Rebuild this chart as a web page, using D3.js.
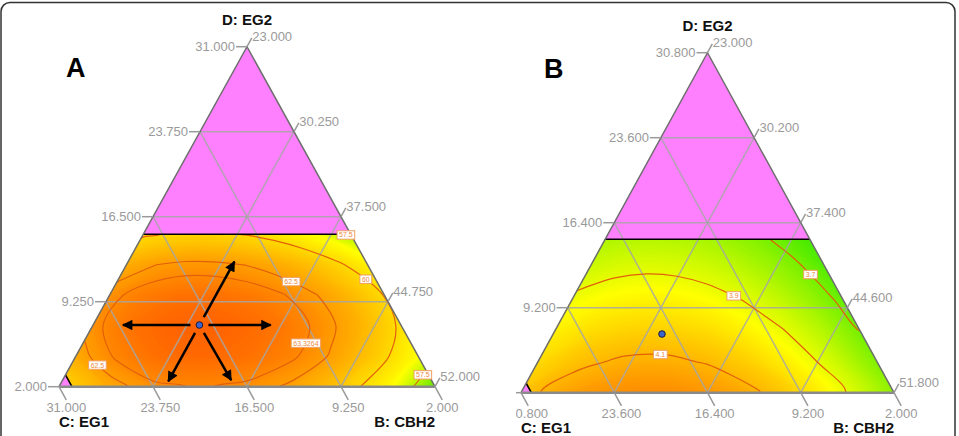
<!DOCTYPE html>
<html>
<head>
<meta charset="utf-8">
<script src="https://cdn.jsdelivr.net/npm/d3@7"></script>
<style>
  body { margin: 0; background: #fff; }
  text { font-family: "Liberation Sans", Arial, sans-serif; }
</style>
</head>
<body>
<script>
// ---- Panel A: response (ternary EG1 / CBH2 / EG2) ----
const dTicksA = [2, 9.25, 16.5, 23.75, 31];       // D: EG2
const bTicksA = [23, 30.25, 37.5, 44.75, 52];      // B: CBH2
const cTicksA = [31, 23.75, 16.5, 9.25, 2];        // C: EG1
const gridDA = [2, 4.6, 7.2, 9.8, 12.4, 15];       // EG2 level of each response row
const gridPosA = [0, 0.125, 0.25, 0.375, 0.5, 0.625, 0.75, 0.875, 1]; // place along row, EG1 side -> CBH2 side
const responseA = [
  [59.91, 61.92, 63.09, 63.42, 63.09, 62.22, 60.81, 58.85, 56.34],
  [61.98, 63.57, 64.47, 64.67, 64.34, 63.57, 62.35, 60.68, 58.55],
  [63.00, 64.22, 64.87, 64.96, 64.65, 63.98, 62.93, 61.52, 59.75],
  [62.97, 63.86, 64.30, 64.32, 64.02, 63.44, 62.56, 61.40, 59.94],
  [61.88, 62.50, 62.77, 62.72, 62.45, 61.95, 61.23, 60.28, 59.11],
  [59.75, 60.13, 60.26, 60.18, 59.93, 59.51, 58.93, 58.19, 57.28]
];
const levelsA = [57.5, 60, 62.5, 63.3264];
// contour labels: level, EG2, CBH2
const labelsA = [[57.5, 14.85, 38.7], [60, 11.1, 42.1], [62.5, 11.27, 36.4],
                 [63.3264, 5.73, 40.1], [62.5, 3.68, 25.0], [57.5, 2.66, 51.1]];
const pointA = [7.26, 31.2];   // EG2, CBH2
const arrowsA = [[0, -5.9], [0, 5.5], [5.4, 0], [-4.8, 0], [-4.7, 4.8]]; // change in EG2, CBH2

// ---- Panel B ----
const dTicksB = [2, 9.2, 16.4, 23.6, 30.8];
const bTicksB = [23, 30.2, 37.4, 44.6, 51.8];
const cTicksB = [30.8, 23.6, 16.4, 9.2, 2];
const gridDB = [2, 4.6, 7.2, 9.8, 12.4, 15];
const gridPosB = [0, 0.125, 0.25, 0.375, 0.5, 0.625, 0.75, 0.875, 1];
const responseB = [
  [4.068, 4.144, 4.187, 4.196, 4.171, 4.113, 4.021, 3.895, 3.735],
  [4.022, 4.082, 4.114, 4.118, 4.094, 4.043, 3.963, 3.856, 3.720],
  [3.973, 4.018, 4.040, 4.040, 4.018, 3.972, 3.904, 3.814, 3.700],
  [3.919, 3.951, 3.966, 3.962, 3.941, 3.902, 3.844, 3.769, 3.676],
  [3.860, 3.882, 3.890, 3.884, 3.864, 3.831, 3.783, 3.723, 3.648],
  [3.797, 3.810, 3.813, 3.805, 3.787, 3.760, 3.722, 3.673, 3.615]
];
const levelsB = [3.7, 3.9, 4.1];
const labelsB = [[3.7, 11.97, 40.33], [3.9, 10.36, 35.35], [4.1, 5.53, 32.04]];
const pointB = [6.97, 31.4];

const eg2Limit = 15, eg1Limit = 30;

const fmt = d3.format(".3f");

const svg = d3.select("body").append("svg")
    .attr("width", 959)
    .attr("height", 436);
const defs = svg.append("defs");
defs.append("marker")
    .attr("id", "arrow")
    .attr("viewBox", "0 0 10 10")
    .attr("refX", 9).attr("refY", 5)
    .attr("markerWidth", 4.6).attr("markerHeight", 4.2)
    .attr("orient", "auto")
  .append("path")
    .attr("d", "M0,0L10,5L0,10z")
    .attr("fill", "#000");

// outer frame
svg.append("rect")
    .attr("x", 1).attr("y", 2.5)
    .attr("width", 954).attr("height", 480)
    .attr("rx", 9)
    .attr("fill", "none")
    .attr("stroke", "#333")
    .attr("stroke-width", 1.5);

function drawPanel(p) {
  const g = svg.append("g");
  if (p.clipX) {
    defs.append("clipPath").attr("id", "cut" + p.id)
      .append("rect").attr("x", p.clipX).attr("y", 0).attr("width", 959).attr("height", 436);
    g.attr("clip-path", `url(#cut${p.id})`);
  }
  const span = p.dMax - p.dMin;
  const total = p.dMax + p.bMin + p.cMin;
  const yD = d3.scaleLinear().domain([p.dMin, p.dMax]).range([p.yBase, p.yApex]);
  const xU = d3.scaleLinear().domain([0, span]).range([0, p.x1 - p.x0]);
  const pt = (D, B) => [p.x0 + xU(B - p.bMin) + xU(D - p.dMin) / 2, yD(D)];
  const ptC = (D, C) => pt(D, total - D - C);
  const apex = pt(p.dMax, p.bMin), left = pt(p.dMin, p.bMin), right = pt(p.dMin, p.bMax);

  // infeasible area
  g.append("path")
    .attr("d", "M" + [apex, left, right].join("L") + "Z")
    .attr("fill", "#ff80ff");

  // feasible region
  const region = [pt(eg2Limit, p.bMin), ptC(eg2Limit, p.cMin), right,
                  ptC(p.dMin, eg1Limit), pt(total - p.bMin - eg1Limit, p.bMin)];
  defs.append("clipPath").attr("id", "region" + p.id)
    .append("path").attr("d", "M" + region.join("L") + "Z");
  const heat = g.append("g").attr("clip-path", `url(#region${p.id})`);

  const nx = p.pos.length, ny = p.gridD.length;
  const values = p.resp.flat();
  const sAt = d3.scaleLinear().domain(d3.range(nx)).range(p.pos);
  const dAt = d3.scaleLinear().domain(d3.range(ny)).range(p.gridD);
  const proj = ([gx, gy]) => {
    const s = sAt(gx - 0.5), D = dAt(gy - 0.5);
    return pt(D, p.bMin + s * (span - (D - p.dMin)));
  };
  const smooth = d3.line().curve(d3.curveCatmullRomClosed);
  const ringPath = ring => smooth(ring.slice(0, -1).map(proj));
  const geoPath = geo => geo.coordinates.map(poly => poly.map(ringPath).join("")).join("");

  const [lo, hi] = d3.extent(values);
  const nb = 90;
  const steps = d3.range(nb).map(i => lo - 0.001 + (hi - lo) * i / nb);
  d3.contours().size([nx, ny]).thresholds(steps)(values).forEach(c => {
    heat.append("path")
      .attr("d", geoPath(c))
      .attr("fill-rule", "evenodd")
      .attr("fill", p.color(c.value + (hi - lo) / nb / 2));
  });

  // grid lines
  const grid = g.append("g")
    .attr("fill", "none")
    .attr("stroke", "#a6a6a6")
    .attr("stroke-width", 1.5)
    .attr("stroke-opacity", 0.85);
  p.dTicks.slice(1, 4).forEach(D => grid.append("path").attr("d", "M" + pt(D, p.bMin) + "L" + ptC(D, p.cMin)));
  p.bTicks.slice(1, 4).forEach(B => grid.append("path").attr("d", "M" + pt(p.dMin, B) + "L" + pt(total - B - p.cMin, B)));
  p.cTicks.slice(1, 4).forEach(C => grid.append("path").attr("d", "M" + ptC(p.dMin, C) + "L" + ptC(total - p.bMin - C, C)));

  // contour lines
  const lines = d3.contours().size([nx, ny]).thresholds(p.levels)(values);
  const lineG = g.append("g").attr("clip-path", `url(#region${p.id})`);
  const paths = {};
  lines.forEach(c => {
    paths[c.value] = lineG.append("path")
      .attr("d", geoPath(c))
      .attr("fill", "none")
      .attr("stroke", "#e2600a")
      .attr("stroke-width", 1.2);
  });

  // constraint edges
  g.append("path")
    .attr("d", "M" + pt(eg2Limit, p.bMin) + "L" + ptC(eg2Limit, p.cMin)
             + "M" + pt(total - p.bMin - eg1Limit, p.bMin) + "L" + ptC(p.dMin, eg1Limit))
    .attr("stroke", "#000")
    .attr("stroke-width", 1.6);

  // triangle outline
  g.append("path").attr("d", "M" + left + "L" + apex + "L" + right)
    .attr("fill", "none").attr("stroke", "#6e6e6e").attr("stroke-width", 1.5);
  g.append("path").attr("d", "M" + left + "L" + right)
    .attr("stroke", "#8a8a8a").attr("stroke-width", 2.5);

  // contour labels, snapped onto their line
  p.labels.forEach(([v, D, B]) => {
    const node = paths[v].node();
    const [tx, ty] = pt(D, B);
    const len = node.getTotalLength();
    let best = null, bd = Infinity;
    for (let l = 0; l <= len; l += 1) {
      const q = node.getPointAtLength(l);
      const d = (q.x - tx) ** 2 + (q.y - ty) ** 2;
      if (d < bd) { bd = d; best = q; }
    }
    const pos = bd < 400 ? [best.x, best.y] : [tx, ty];
    const lab = g.append("g").attr("transform", `translate(${pos[0]},${pos[1]})`);
    const t = lab.append("text")
      .attr("text-anchor", "middle")
      .attr("y", 2.5)
      .attr("font-size", 7)
      .attr("fill", "#ee8a3a")
      .text(String(v));
    const w = t.node().getComputedTextLength() + 4;
    lab.insert("rect", "text")
      .attr("x", -w / 2).attr("y", -4.2)
      .attr("width", w).attr("height", 8.4)
      .attr("fill", "#fff")
      .attr("stroke", "#f0a060")
      .attr("stroke-width", 1);
  });

  // axes: ticks and labels
  const ax = g.append("g").attr("fill", "#9a9a9a").attr("font-size", 13);
  const tk = g.append("g").attr("stroke", "#9a9a9a").attr("stroke-width", 1.5);
  const unit = (a, b) => { const dx = b[0] - a[0], dy = b[1] - a[1], n = Math.hypot(dx, dy); return [dx / n, dy / n]; };
  const upDir = unit(left, apex), downDir = unit(apex, right);
  p.dTicks.forEach(D => {
    const [x, y] = pt(D, p.bMin);
    tk.append("line").attr("x1", x).attr("y1", y).attr("x2", x - 11).attr("y2", y);
    ax.append("text").attr("x", x - 12).attr("y", y + 4.6).attr("text-anchor", "end").text(fmt(D));
  });
  p.bTicks.forEach(B => {
    const [x, y] = pt(total - B - p.cMin, B);
    const ex = x + upDir[0] * 10, ey = y + upDir[1] * 10;
    tk.append("line").attr("x1", x).attr("y1", y).attr("x2", ex).attr("y2", ey);
    ax.append("text").attr("x", ex + 0.5).attr("y", ey + 3).text(fmt(B));
  });
  p.cTicks.forEach(C => {
    const [x, y] = ptC(p.dMin, C);
    const ex = x + downDir[0] * 15, ey = y + downDir[1] * 15;
    tk.append("line").attr("x1", x).attr("y1", y).attr("x2", ex).attr("y2", ey);
    ax.append("text").attr("x", ex).attr("y", ey + 12.3).attr("text-anchor", "middle").text(fmt(C));
  });

  // axis titles
  const tt = g.append("g").attr("font-size", 15).attr("font-weight", "bold").attr("fill", "#111");
  tt.append("text").attr("x", apex[0]).attr("y", apex[1] - 22).attr("text-anchor", "middle").text("D: EG2");
  tt.append("text").attr("x", left[0]).attr("y", left[1] + 40.5).text("C: EG1");
  tt.append("text").attr("x", right[0]).attr("y", right[1] + 40.5).attr("text-anchor", "end").text("B: CBH2");

  // panel letter
  g.append("text")
    .attr("x", p.letterX).attr("y", p.letterY)
    .attr("font-size", 27).attr("font-weight", "bold")
    .text(p.id);

  // arrows from the chosen blend
  const dot = pt(p.point[0], p.point[1]);
  (p.arrows || []).forEach(([dd, db]) => {
    const end = pt(p.point[0] + dd, p.point[1] + db);
    const u = unit(dot, end);
    g.append("line")
      .attr("x1", dot[0] + u[0] * 9).attr("y1", dot[1] + u[1] * 9)
      .attr("x2", end[0]).attr("y2", end[1])
      .attr("stroke", "#000")
      .attr("stroke-width", 2.5)
      .attr("marker-end", "url(#arrow)");
  });
  g.append("circle")
    .attr("cx", dot[0]).attr("cy", dot[1]).attr("r", 3.3)
    .attr("fill", "#3c64cc")
    .attr("stroke", "#1a1a3a")
    .attr("stroke-width", 1);
}

drawPanel({
  id: "A", x0: 59, x1: 435, yBase: 386.7, yApex: 46.7,
  dMin: 2, dMax: 31, bMin: 23, bMax: 52, cMin: 2,
  dTicks: dTicksA, bTicks: bTicksA, cTicks: cTicksA,
  gridD: gridDA, pos: gridPosA, resp: responseA,
  levels: levelsA, labels: labelsA, point: pointA, arrows: arrowsA,
  color: d3.scaleLinear().domain([55.5, 58.5, 65]).range(["#22e000", "#ffff00", "#ff6000"]).clamp(true),
  letterX: 66, letterY: 77
});

drawPanel({
  id: "B", x0: 521, x1: 894, yBase: 392.7, yApex: 52.7, clipX: 516,
  dMin: 2, dMax: 30.8, bMin: 23, bMax: 51.8, cMin: 2,
  dTicks: dTicksB, bTicks: bTicksB, cTicks: cTicksB,
  gridD: gridDB, pos: gridPosB, resp: responseB,
  levels: levelsB, labels: labelsB, point: pointB,
  color: d3.scaleLinear().domain([3.58, 3.94, 4.22]).range(["#30e800", "#ffff00", "#ff8000"]).clamp(true),
  letterX: 544, letterY: 78
});
</script>
</body>
</html>
